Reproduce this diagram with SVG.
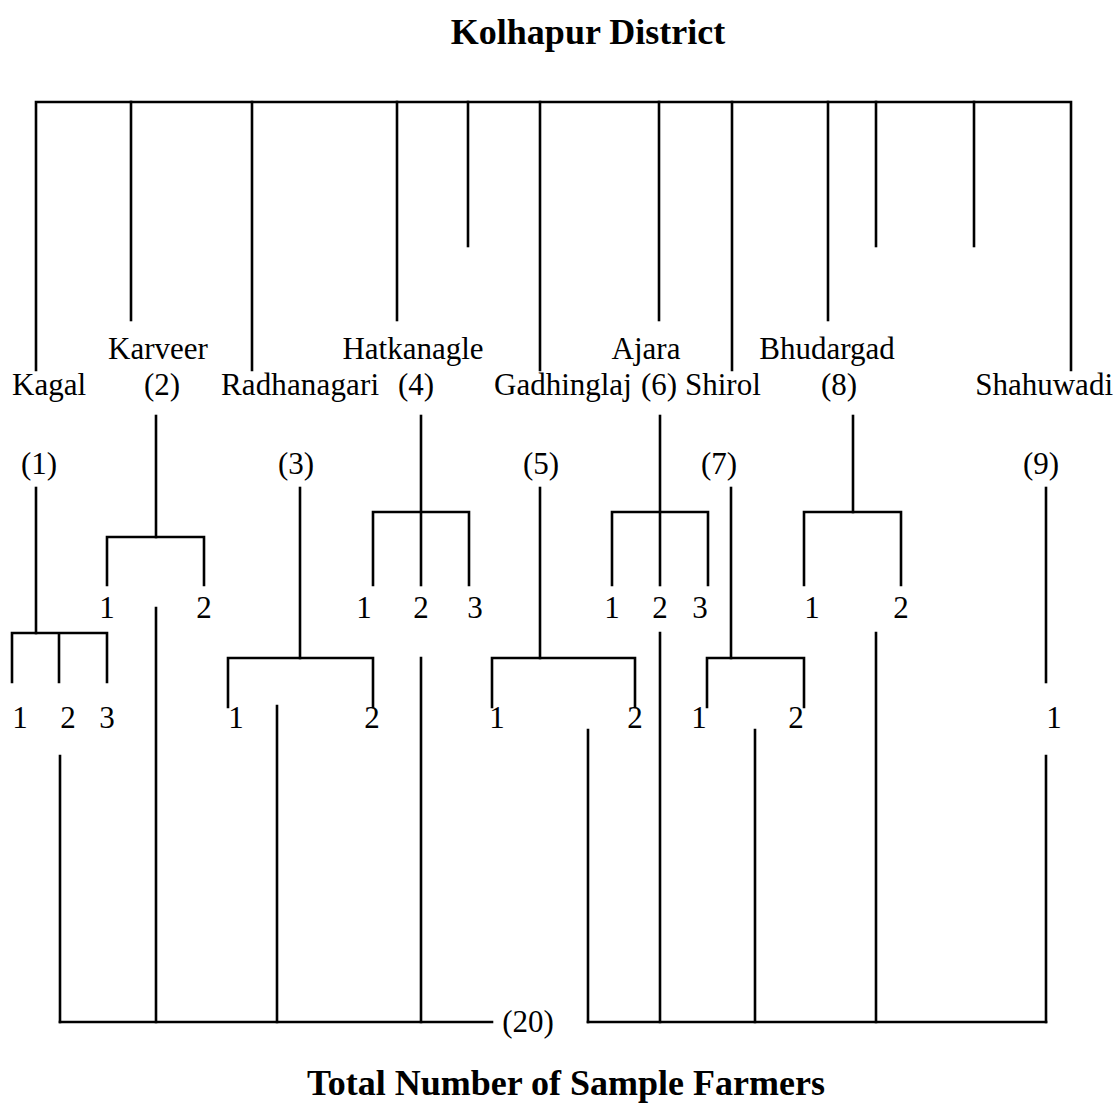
<svg xmlns="http://www.w3.org/2000/svg" width="1120" height="1114" viewBox="0 0 1120 1114">
<style>
text{font-family:"Liberation Serif","Times New Roman",serif;fill:#000;font-size:31px}
.t{font-weight:bold;font-size:36px}
.m{text-anchor:middle}
.e{text-anchor:end}
line,path{stroke:#000;stroke-width:2.6;fill:none;stroke-linecap:square}
</style>
<rect width="1120" height="1114" fill="#fff"/>
<g id="title"><text class="t m" x="588" y="44">Kolhapur District</text></g>
<g id="connectors">
<path d="M36 370V102H1071V370"/>
<line x1="131" y1="102" x2="131" y2="320"/>
<line x1="252" y1="102" x2="252" y2="370"/>
<line x1="397" y1="102" x2="397" y2="320"/>
<line x1="468" y1="102" x2="468" y2="246"/>
<line x1="540" y1="102" x2="540" y2="370"/>
<line x1="659" y1="102" x2="659" y2="320"/>
<line x1="732" y1="102" x2="732" y2="370"/>
<line x1="828" y1="102" x2="828" y2="320"/>
<line x1="876" y1="102" x2="876" y2="246"/>
<line x1="974" y1="102" x2="974" y2="246"/>
<!-- upper brackets -->
<line x1="156" y1="416" x2="156" y2="537"/>
<path d="M107 585V537H204V585"/>
<line x1="421" y1="416" x2="421" y2="585"/>
<path d="M373 585V512H469V585"/>
<line x1="660" y1="416" x2="660" y2="585"/>
<path d="M612 585V512H708V585"/>
<line x1="853" y1="416" x2="853" y2="512"/>
<path d="M804 585V512H901V585"/>
<!-- lower brackets -->
<line x1="36" y1="488" x2="36" y2="633"/>
<path d="M12 682V633H107V682M59 633V682"/>
<line x1="300" y1="488" x2="300" y2="658"/>
<path d="M228 707V658H373V707"/>
<line x1="540" y1="488" x2="540" y2="658"/>
<path d="M492 707V658H635V707"/>
<line x1="731" y1="488" x2="731" y2="658"/>
<path d="M707 707V658H804V707"/>
<line x1="1046" y1="488" x2="1046" y2="682"/>
<!-- bottom -->
<line x1="60" y1="756" x2="60" y2="1022"/>
<line x1="156" y1="608" x2="156" y2="1022"/>
<line x1="277" y1="706" x2="277" y2="1022"/>
<line x1="421" y1="658" x2="421" y2="1022"/>
<line x1="588" y1="730" x2="588" y2="1022"/>
<line x1="660" y1="633" x2="660" y2="1022"/>
<line x1="755" y1="730" x2="755" y2="1022"/>
<line x1="876" y1="633" x2="876" y2="1022"/>
<line x1="1046" y1="756" x2="1046" y2="1022"/>
<line x1="60" y1="1022" x2="492" y2="1022"/>
<line x1="588" y1="1022" x2="1046" y2="1022"/>
</g>
<g id="kagal"><text x="12" y="395">Kagal</text><text class="m" x="39" y="474">(1)</text>
<text class="m" x="20" y="728">1</text><text class="m" x="68" y="728">2</text><text class="m" x="107" y="728">3</text></g>
<g id="karveer"><text class="m" x="158" y="359">Karveer</text><text class="m" x="162" y="395">(2)</text>
<text class="m" x="107" y="618">1</text><text class="m" x="204" y="618">2</text></g>
<g id="radhanagari"><text x="221" y="395" textLength="158">Radhanagari</text><text class="m" x="296" y="474">(3)</text>
<text class="m" x="236" y="728">1</text><text class="m" x="372" y="728">2</text></g>
<g id="hatkanagle"><text class="m" x="413" y="359">Hatkanagle</text><text class="m" x="416" y="395">(4)</text>
<text class="m" x="364" y="618">1</text><text class="m" x="421" y="618">2</text><text class="m" x="475" y="618">3</text></g>
<g id="gadhinglaj"><text x="494" y="395">Gadhinglaj</text><text class="m" x="541" y="474">(5)</text>
<text class="m" x="497" y="728">1</text><text class="m" x="635" y="728">2</text></g>
<g id="ajara"><text class="m" x="646" y="359">Ajara</text><text class="m" x="659" y="395">(6)</text>
<text class="m" x="612" y="618">1</text><text class="m" x="660" y="618">2</text><text class="m" x="700" y="618">3</text></g>
<g id="shirol"><text x="685" y="395">Shirol</text><text class="m" x="719" y="474">(7)</text>
<text class="m" x="699" y="728">1</text><text class="m" x="796" y="728">2</text></g>
<g id="bhudargad"><text class="m" x="827" y="359">Bhudargad</text><text class="m" x="839" y="395">(8)</text>
<text class="m" x="812" y="618">1</text><text class="m" x="901" y="618">2</text></g>
<g id="shahuwadi"><text class="e" x="1113" y="395">Shahuwadi</text><text class="m" x="1041" y="474">(9)</text>
<text class="m" x="1054" y="728">1</text></g>
<g id="total"><text class="m" x="528" y="1032">(20)</text>
<text class="t m" x="566" y="1095">Total Number of Sample Farmers</text></g>
</svg>
